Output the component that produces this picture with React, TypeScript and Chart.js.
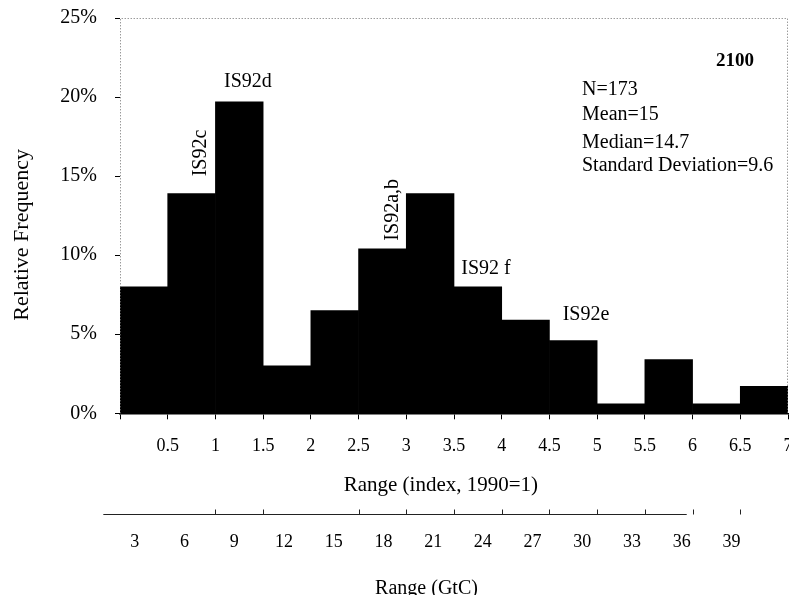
import React, { useEffect, useRef } from 'react';
import { Chart, registerables } from 'chart.js';

Chart.register(...registerables);

// ---- data ----
const binLabels = ['0.5', '1', '1.5', '2', '2.5', '3', '3.5', '4', '4.5', '5', '5.5', '6', '6.5', '7'];
const relativeFrequency = [8.0, 13.9, 19.7, 3.0, 6.5, 10.4, 13.9, 8.0, 5.9, 4.6, 0.6, 3.4, 0.6, 1.7];

const yMin = 0;
const yMax = 25;
const yStep = 5;

const indexMin = 0;
const indexMax = 7;
const indexStep = 0.5;

const gtcMin = 2.106;
const gtcMax = 42.41;
const gtcStep = 3;
const gtcLastLabel = 39;
const gtcLineStart = 1.1;
const gtcLineEnd = 36.3;
const gtcTickEdges = [1.0, 1.5, 2.5, 3.0, 3.5, 4.0, 4.5, 5.0, 5.5, 6.0, 6.5];

const scenarioNames = ['IS92c', 'IS92d', 'IS92a,b', 'IS92 f', 'IS92e'];
const scenarioX = [0.844, 1.341, 2.855, 3.835, 4.883];
const scenarioY = [16.46, 20.97, 12.87, 9.13, 6.22];
const scenarioVertical = [true, false, true, false, false];

const yearLabel = '2100';
const yearX = 6.445;
const yearY = 22.25;

const statsLines = ['N=173', 'Mean=15', 'Median=14.7', 'Standard Deviation=9.6'];
const statsX = 4.841;
const statsY = [20.48, 18.85, 17.09, 15.68];

const FONT = "'Liberation Serif', 'Times New Roman', Times, serif";

const overlayPlugin = {
  id: 'overlay',
  afterDraw(chart: any) {
    const { ctx, chartArea, scales } = chart;
    const xi = scales.xi;
    const y = scales.y;
    const xg = scales.xg;
    ctx.save();

    // dotted frame (top, right, left)
    ctx.strokeStyle = '#6e6e6e';
    ctx.lineWidth = 1;
    ctx.setLineDash([1, 2]);
    ctx.beginPath();
    ctx.moveTo(chartArea.left + 0.5, chartArea.bottom);
    ctx.lineTo(chartArea.left + 0.5, chartArea.top + 0.5);
    ctx.lineTo(chartArea.right - 0.5, chartArea.top + 0.5);
    ctx.lineTo(chartArea.right - 0.5, chartArea.bottom);
    ctx.stroke();
    ctx.setLineDash([]);

    // GtC axis line and ticks
    const ly = Math.round(xg.top) + 0.5;
    ctx.strokeStyle = '#222';
    ctx.lineWidth = 1;
    ctx.beginPath();
    ctx.moveTo(xg.getPixelForValue(gtcLineStart), ly);
    ctx.lineTo(xg.getPixelForValue(gtcLineEnd), ly);
    for (const e of gtcTickEdges) {
      const px = Math.round(xi.getPixelForValue(e)) + 0.5;
      ctx.moveTo(px, ly);
      ctx.lineTo(px, ly - 5);
    }
    ctx.stroke();

    // scenario annotations
    ctx.fillStyle = '#000';
    ctx.textAlign = 'center';
    ctx.textBaseline = 'middle';
    ctx.font = `20px ${FONT}`;
    scenarioNames.forEach((name, i) => {
      const px = xi.getPixelForValue(scenarioX[i]);
      const py = y.getPixelForValue(scenarioY[i]);
      ctx.save();
      ctx.translate(px, py);
      if (scenarioVertical[i]) ctx.rotate(-Math.PI / 2);
      ctx.fillText(name, 0, 0);
      ctx.restore();
    });

    // year
    ctx.font = `bold 19px ${FONT}`;
    ctx.fillText(yearLabel, xi.getPixelForValue(yearX), y.getPixelForValue(yearY));

    // stats
    ctx.font = `20px ${FONT}`;
    ctx.textAlign = 'left';
    statsLines.forEach((line, i) => {
      ctx.fillText(line, xi.getPixelForValue(statsX), y.getPixelForValue(statsY[i]));
    });

    ctx.restore();
  },
};

export default function App() {
  const canvasRef = useRef<HTMLCanvasElement | null>(null);

  useEffect(() => {
    if (!canvasRef.current) return;
    Chart.defaults.font.family = FONT;
    Chart.defaults.color = '#000';

    const zeroHorizontalPadding = (s: any) => {
      s.paddingLeft = 0;
      s.paddingRight = 0;
    };

    const chart = new Chart(canvasRef.current, {
      type: 'bar',
      data: {
        labels: binLabels,
        datasets: [
          {
            data: relativeFrequency,
            backgroundColor: '#000',
            borderWidth: 0,
            barPercentage: 1,
            categoryPercentage: 1,
          },
        ],
      },
      options: {
        responsive: false,
        animation: false,
        devicePixelRatio: 1,
        layout: { padding: { top: 18, right: 1, bottom: 0, left: 0 } },
        plugins: { legend: { display: false }, tooltip: { enabled: false } },
        scales: {
          x: {
            type: 'category',
            display: false,
            offset: true,
          },
          y: {
            type: 'linear',
            min: yMin,
            max: yMax,
            afterFit: (s: any) => {
              s.width = 120;
              s.paddingTop = 0;
              s.paddingBottom = 0;
            },
            border: { display: false },
            grid: { drawOnChartArea: false, drawTicks: true, tickLength: 5, color: '#000' },
            ticks: {
              stepSize: yStep,
              padding: 18,
              font: { size: 20 },
              callback: (v: any) => `${v}%`,
            },
            title: {
              display: true,
              text: 'Relative Frequency       ',
              font: { size: 22 },
              padding: { top: 8.8, bottom: 0 },
            },
          },
          xi: {
            type: 'linear',
            position: 'bottom',
            weight: 1,
            offset: false,
            min: indexMin,
            max: indexMax,
            afterFit: zeroHorizontalPadding,
            border: { display: true, color: '#000', width: 1.5 },
            grid: { offset: false, drawOnChartArea: false, drawTicks: true, tickLength: 6, color: '#000' },
            ticks: {
              stepSize: indexStep,
              autoSkip: false,
              maxRotation: 0,
              padding: 15.9,
              font: { size: 18 },
              callback: (v: any) => (v === 0 ? '' : String(v)),
            },
            title: {
              display: true,
              text: 'Range (index, 1990=1)     ',
              font: { size: 21 },
              padding: { top: 0, bottom: 16.1 },
            },
          },
          xg: {
            type: 'linear',
            position: 'bottom',
            weight: 2,
            offset: false,
            min: gtcMin,
            max: gtcMax,
            afterFit: zeroHorizontalPadding,
            border: { display: false },
            grid: { offset: false, display: false, drawTicks: false, drawOnChartArea: false },
            ticks: {
              stepSize: gtcStep,
              includeBounds: false,
              autoSkip: false,
              maxRotation: 0,
              padding: 17.2,
              font: { size: 18 },
              callback: (v: any) => (v <= gtcLastLabel ? String(v) : ''),
            },
            title: {
              display: true,
              text: 'Range (GtC)           ',
              font: { size: 20 },
              padding: { top: 7, bottom: -6 },
            },
          },
        },
      } as any,
      plugins: [overlayPlugin],
    });

    return () => chart.destroy();
  }, []);

  return (
    <div style={{ position: 'fixed', left: 0, top: 0, width: 789, height: 595, background: '#fff' }}>
      <canvas ref={canvasRef} width={789} height={595} style={{ display: 'block', width: 789, height: 595 }} />
    </div>
  );
}
